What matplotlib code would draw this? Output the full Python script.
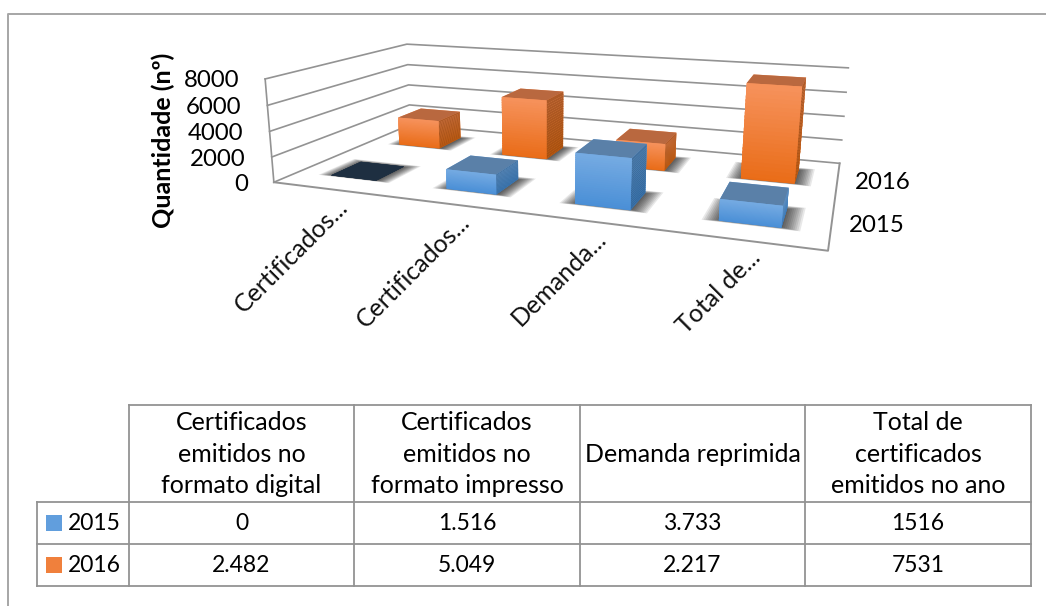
import numpy as np
import matplotlib
matplotlib.use("Agg")
import matplotlib.pyplot as plt
from matplotlib import colors as mc
from mpl_toolkits.mplot3d.art3d import Poly3DCollection

plt.rcParams["font.family"] = ["Lato", "DejaVu Sans"]

## Data
categories = ["Certificados...", "Certificados...", "Demanda...", "Total de..."]
header_lines = ["Certificados\nemitidos no\nformato digital",
                "Certificados\nemitidos no\nformato impresso",
                "Demanda reprimida",
                "Total de\ncertificados\nemitidos no ano"]
series = ["2015", "2016"]
values_2015 = [0, 1516, 3733, 1516]
values_2016 = [2482, 5049, 2217, 7531]
table_2015 = ["0", "1.516", "3.733", "1516"]
table_2016 = ["2.482", "5.049", "2.217", "7531"]
z_ticks = [0, 2000, 4000, 6000, 8000]

W, H = 1046, 606
GREY = "#939393"


def camera(world, pix):
    # DLT fit of a 3x4 camera from known corners of the chart box
    rows = []
    for (x, y, z), (u, v) in zip(world, pix):
        p = [x, y, z, 1]
        rows.append(p + [0, 0, 0, 0] + [-u * c for c in p])
        rows.append([0, 0, 0, 0] + p + [-v * c for c in p])
    P = np.linalg.svd(np.array(rows, float))[2][-1].reshape(3, 4)
    w0 = P[2] @ np.array([2, 1, 0, 1])
    P = P / w0
    return np.array([P[0], P[1], P[2] - np.array([0, 0, 0, 1.0]), P[2]])


# box is 4 categories wide, 2 series deep; scaled z so the fit stays well conditioned
box_world = [(0, 0, 0), (0, 2, 0), (4, 2, 0), (4, 0, 0),
             (0, 0, 8), (0, 2, 8), (4, 2, 8)]
box_pix = [(275, H - 182), (409, H - 125), (840, H - 163), (828, H - 251),
           (264, H - 79), (408, H - 44), (848, H - 68)]
M = camera(box_world, box_pix)
M[:, 2] = M[:, 2] / 1000.0


def project(x, y, z):
    v = M @ np.array([x, y, z, 1.0])
    return v[0] / v[3], H - v[1] / v[3]


fig = plt.figure(figsize=(W / 100, H / 100), dpi=100)

# 3d axes are forced square, so let it hang over the top and bottom of the figure
ax = fig.add_axes([0, -220 / H, 1, W / H], projection="3d")
ax.set_axis_off()
ax.computed_zorder = False
ax.patch.set_alpha(0)
ax.set_proj_type("ortho")  # no clipping of lines to the unit cube
ax.get_proj = lambda: M
ax.viewLim.set_points(np.array([[0, -220], [W, W - 220]], float))

## Walls and floor
for z in z_ticks:
    ax.plot([0, 0, 4], [0, 2, 2], [z, z, z], color=GREY, lw=1.2, zorder=1)
ax.plot([0, 0], [0, 0], [0, 8000], color=GREY, lw=1.2, zorder=1)
ax.plot([0, 4, 4], [0, 0, 2], [0, 0, 0], color=GREY, lw=1.4, zorder=1)

## Bars
bar_w = 0.4
front = {"2015": ("#74aae2", "#4a8fd6"), "2016": ("#f6915a", "#e96c17")}
side = {"2015": ("#43719f", "#33689c"), "2016": ("#ad5a28", "#a8510f")}
top = {"2015": "#5a80a8", "2016": "#b9683f"}


def mix(a, b, t):
    return np.array(mc.to_rgb(a)) * (1 - t) + np.array(mc.to_rgb(b)) * t


def shadow(x, y, order):
    for m in np.linspace(0.115, 0.005, 10):
        x0, x1 = x - m, x + bar_w + m
        y0, y1 = y - m * 0.3 + 0.02, y + bar_w + m * 0.6
        quad = [[(x0, y0, 0), (x1, y0, 0), (x1, y1, 0), (x0, y1, 0)]]
        ax.add_collection3d(Poly3DCollection(quad, facecolor=(0, 0, 0, 0.09),
                                             edgecolor=(0, 0, 0, 0), linewidth=0,
                                             zorder=order))


def bar(x, y, v, name, order):
    shadow(x, y, order)
    if v == 0:
        dark = "#1e2f41"
        ax.bar3d(x, y, 0, bar_w, bar_w, 0, color=[dark] * 6, shade=False,
                 edgecolor=[dark] * 6, linewidth=0.3, zorder=order + 1)
        return
    n = 24
    dz = v / n
    for k in range(n):
        t = k / (n - 1)
        f = mix(front[name][1], front[name][0], t)
        s = mix(side[name][1], side[name][0], t)
        # face order of bar3d: bottom, top, front, back, left, right
        cols = [f, mc.to_rgb(top[name]) if k == n - 1 else f, f, f, f, s]
        # each slice reaches a bit into the one below, hides the seam
        z0 = max(k - 0.5, 0) * dz
        ax.bar3d(x, y, z0, bar_w, bar_w, (k + 1) * dz - z0, color=cols, shade=False,
                 edgecolor=cols, linewidth=0, zorder=order + 1 + k * 0.01)


for j, (name, vals) in reversed(list(enumerate(zip(series, [values_2015, values_2016])))):
    for i, v in enumerate(vals):
        bar(i + 0.3, j + 0.3, v, name, 10 + (1 - j) * 10 + i)

## Flat overlay in pixel coordinates for frame, labels and data table
ov = fig.add_axes([0, 0, 1, 1])
ov.set_xlim(0, W)
ov.set_ylim(H, 0)
ov.axis("off")
ov.patch.set_alpha(0)

ov.plot([W, 8, 8], [13.5, 13.5, H], color="#a6a6a6", lw=1.4)
ov.text(163, 140, "Quantidade (nº)", rotation=90, ha="center", va="center",
        fontsize=18, fontweight="bold", color="black")

for z in z_ticks:
    px, py = project(0, 0, z)
    ov.text(px - 26, py + 2, str(z), ha="right", va="center", fontsize=17.3, color="black")
for i, c in enumerate(categories):
    px, py = project(i + 0.5, 0, 0)
    ov.text(px + 14, py + 14, c, rotation=45, rotation_mode="anchor",
            ha="right", va="center", fontsize=18, color="#111111")
for j, s in enumerate(series):
    px, py = project(4, j + 0.5, 0)
    ov.text(px + 17.5, py + 2, s, ha="left", va="center", fontsize=17.3, color="black")

col_x = [129, 354, 580, 805, 1031]
row_y = [405, 502, 544, 586]
left_x = 37
ov.plot([col_x[0], col_x[-1]], [row_y[0], row_y[0]], color=GREY, lw=1.3)
for y in row_y[1:]:
    ov.plot([left_x, col_x[-1]], [y, y], color=GREY, lw=1.3)
ov.plot([left_x, left_x], [row_y[1], row_y[3]], color=GREY, lw=1.3)
for x in col_x:
    ov.plot([x, x], [row_y[0], row_y[3]], color=GREY, lw=1.3)

for i, h in enumerate(header_lines):
    ov.text((col_x[i] + col_x[i + 1]) / 2, 454, h, ha="center", va="center",
            fontsize=18, linespacing=1.44, color="black")
for r, (name, cells) in enumerate(zip(series, [table_2015, table_2016])):
    yc = (row_y[r + 1] + row_y[r + 2]) / 2
    ov.add_patch(plt.Rectangle((46, yc - 8), 16, 16, color=mix(*front[name], 0.45), lw=0))
    ov.text(68, yc, name, ha="left", va="center", fontsize=16.5, color="black")
    for i, c in enumerate(cells):
        ov.text((col_x[i] + col_x[i + 1]) / 2, yc + 1, c, ha="center", va="center",
                fontsize=16.5, color="black")

fig.savefig("out.png", dpi=100)
